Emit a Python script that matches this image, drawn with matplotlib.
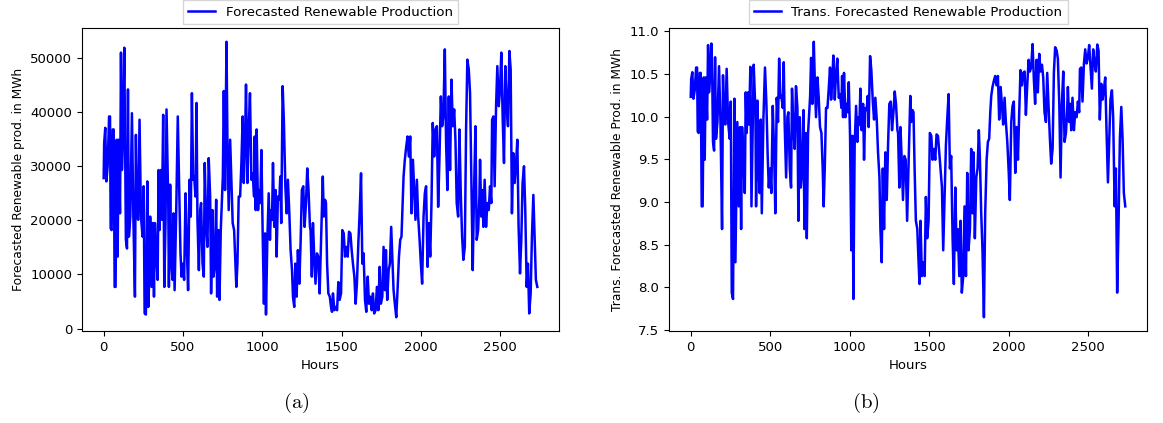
import numpy as np
import matplotlib.pyplot as plt

plt.rcParams['mathtext.fontset'] = 'cm'

# hours and forecasted renewable production (MWh)
hours = [0, 3, 10, 17, 25, 34, 40, 44, 50, 57, 63, 69, 75, 82, 88, 94, 103, 109, 115, 122,
         130, 136, 140, 147, 153, 159, 168, 178, 187, 197, 203, 210, 218, 226, 235, 245, 252, 258, 266, 275,
         281, 287, 293, 302, 310, 317, 323, 333, 340, 346, 352, 361, 367, 375, 382, 390, 396, 407, 411, 419,
         426, 434, 440, 447, 457, 467, 476, 484, 491, 499, 507, 516, 524, 532, 541, 549, 556, 564, 570, 579,
         585, 591, 600, 608, 614, 623, 631, 637, 646, 654, 662, 671, 677, 686, 692, 700, 709, 715, 723, 730,
         738, 751, 757, 765, 774, 780, 788, 797, 805, 813, 822, 830, 836, 843, 851, 860, 868, 876, 883, 891,
         897, 906, 914, 922, 931, 939, 948, 952, 958, 964, 973, 979, 987, 994, 1002, 1010, 1017, 1023, 1031, 1040,
         1048, 1054, 1061, 1067, 1075, 1084, 1090, 1098, 1107, 1113, 1119, 1128, 1136, 1145, 1153, 1161, 1170, 1178, 1187, 1193,
         1201, 1208, 1216, 1224, 1233, 1241, 1249, 1258, 1266, 1275, 1283, 1291, 1300, 1304, 1312, 1319, 1327, 1335, 1344, 1352,
         1361, 1381, 1387, 1395, 1401, 1408, 1416, 1425, 1433, 1439, 1445, 1454, 1462, 1471, 1479, 1487, 1496, 1504, 1513, 1521,
         1529, 1538, 1546, 1555, 1563, 1571, 1580, 1588, 1596, 1605, 1613, 1622, 1630, 1638, 1647, 1655, 1664, 1672, 1680, 1689,
         1697, 1705, 1714, 1722, 1731, 1739, 1747, 1756, 1764, 1773, 1779, 1787, 1796, 1804, 1812, 1819, 1827, 1835, 1844, 1852,
         1861, 1869, 1877, 1884, 1890, 1898, 1907, 1915, 1923, 1932, 1940, 1949, 1957, 1965, 1974, 1982, 1991, 1999, 2007, 2016,
         2024, 2032, 2041, 2049, 2058, 2066, 2074, 2083, 2091, 2100, 2108, 2116, 2125, 2133, 2141, 2150, 2158, 2166, 2175, 2183,
         2192, 2200, 2209, 2217, 2225, 2234, 2242, 2251, 2259, 2267, 2276, 2284, 2292, 2301, 2309, 2318, 2326, 2334, 2343, 2351,
         2360, 2368, 2372, 2380, 2387, 2393, 2401, 2410, 2418, 2427, 2435, 2443, 2448, 2456, 2464, 2473, 2481, 2490, 2498, 2506,
         2515, 2523, 2531, 2540, 2548, 2557, 2565, 2573, 2582, 2590, 2599, 2607, 2615, 2624, 2632, 2640, 2649, 2657, 2666, 2674,
         2682, 2691, 2699, 2708, 2716, 2724, 2733]

production = [27800, 34300, 37100, 27200, 30000, 39200, 39200, 18500, 18200, 36800, 36800, 7700, 7700, 34900, 13300, 34900, 21300, 51000, 29300, 35500,
              51900, 31800, 16400, 14800, 44200, 17000, 20700, 39800, 20700, 5900, 35800, 20700, 20100, 38600, 20700, 17000, 26300, 2800, 2600, 27200,
              4000, 9000, 20700, 7700, 19500, 5900, 19500, 12700, 9000, 29300, 18200, 29300, 20100, 39500, 7700, 20100, 40500, 23200, 7700, 26600,
              12000, 9000, 21300, 7100, 21300, 39200, 25600, 13900, 9600, 12000, 9000, 25000, 15100, 7100, 27500, 20700, 43500, 27500, 28100, 24400,
              41700, 20100, 10800, 21900, 23200, 12000, 9600, 30600, 18800, 15100, 31500, 24400, 6500, 21900, 9600, 11400, 23800, 5900, 18200, 5300,
              18200, 28100, 43900, 25600, 53000, 34300, 21900, 34900, 27500, 19500, 18200, 12000, 7700, 12000, 24400, 24400, 30600, 39200, 26900, 34900,
              45100, 26900, 36800, 43500, 27500, 28700, 24400, 35500, 21900, 36800, 21900, 25600, 23200, 33000, 17600, 4600, 17600, 2600, 15800, 25000,
              16400, 21900, 20100, 30600, 18800, 25600, 13300, 24400, 23800, 28100, 19500, 44800, 38000, 26300, 21300, 27500, 21300, 14500, 10800, 5900,
              4000, 12000, 5900, 14500, 8300, 15800, 25600, 26300, 18800, 23200, 29600, 25600, 18800, 18200, 9600, 19500, 13300, 8300, 13900, 13300,
              6500, 28100, 20700, 23800, 23200, 12000, 6500, 5900, 4000, 3100, 6500, 3400, 4000, 3400, 8600, 5300, 6500, 18200, 17600, 13300,
              15100, 13300, 17900, 17600, 14500, 12000, 9600, 4600, 8300, 15800, 21300, 28700, 12000, 13900, 5300, 3100, 9600, 4600, 5900, 3400,
              6500, 2800, 3400, 7700, 3400, 11400, 4600, 5900, 15100, 7100, 14500, 5300, 10800, 12000, 18800, 13300, 7100, 4600, 2100, 7100,
              13300, 16400, 17000, 23200, 28100, 31200, 33700, 35500, 31800, 35500, 21300, 31200, 25600, 20100, 27500, 20700, 16400, 12000, 8300, 20700,
              25000, 26300, 11400, 19500, 13300, 23200, 38000, 31800, 36800, 37400, 22500, 31200, 42900, 37400, 39200, 51600, 34300, 25600, 42900, 29300,
              46000, 37400, 40500, 34900, 23200, 20700, 36800, 24400, 17000, 12700, 15100, 36800, 49700, 47900, 43500, 25600, 10800, 25000, 37400, 16400,
              18200, 24400, 31200, 20700, 25600, 18800, 27500, 18800, 23200, 21900, 26300, 23200, 38600, 39200, 26300, 41100, 48500, 41100, 44200, 51000,
              38600, 30600, 48500, 41100, 37400, 51300, 47900, 21300, 32400, 26900, 30600, 34900, 18800, 10200, 16400, 26900, 30000, 21900, 7700, 12000,
              2800, 6500, 17000, 24700, 17000, 9000, 7700]

hours = np.array(hours)
production = np.array(production)
# the right panel shows the log transform of the same series
trans_production = np.log(production)

fig = plt.figure(figsize=(11.63, 4.23), dpi=100)
ax1 = fig.add_axes([82 / 1163, 92 / 423, 477 / 1163, 303 / 423])
ax2 = fig.add_axes([669 / 1163, 92 / 423, 478 / 1163, 303 / 423])

# left: raw production
ax1.plot(hours, production, color='blue', linewidth=1.8, label='Forecasted Renewable Production')
ax1.set_xlabel('Hours', fontsize=9.5)
ax1.set_ylabel('Forecasted Renewable prod. in MWh', fontsize=8.8)
ax1.set_xticks([0, 500, 1000, 1500, 2000, 2500])
ax1.set_yticks([0, 10000, 20000, 30000, 40000, 50000])
ax1.tick_params(labelsize=9.5)
ax1.legend(loc='lower center', bbox_to_anchor=(0.5, 1.0), fontsize=9.6, borderaxespad=0.3,
           fancybox=False, handlelength=2)

# right: transformed production
ax2.plot(hours, trans_production, color='blue', linewidth=1.8, label='Trans. Forecasted Renewable Production')
ax2.set_xlabel('Hours', fontsize=9.5)
ax2.set_ylabel('Trans. Forecasted Renewable Prod. in MWh', fontsize=8.8)
ax2.set_xticks([0, 500, 1000, 1500, 2000, 2500])
ax2.set_yticks(np.arange(7.5, 11.01, 0.5))
ax2.tick_params(labelsize=9.5)
ax2.legend(loc='lower center', bbox_to_anchor=(0.5, 1.0), fontsize=9.6, borderaxespad=0.3,
           fancybox=False, handlelength=2)

# sub-captions
fig.text(296 / 1163, 1 - 403 / 423, r'$\mathrm{(a)}$', ha='center', va='center', fontsize=15)
fig.text(866 / 1163, 1 - 403 / 423, r'$\mathrm{(b)}$', ha='center', va='center', fontsize=15)

fig.savefig('out.png', dpi=100)
